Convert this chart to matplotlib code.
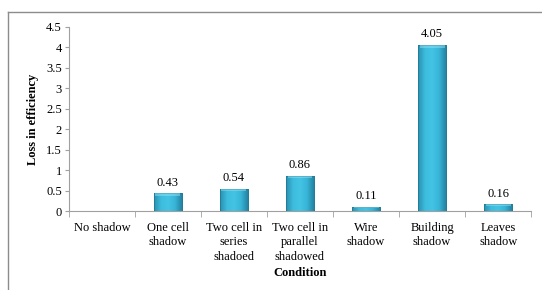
import matplotlib.pyplot as plt
import numpy as np
from matplotlib.lines import Line2D
from matplotlib.colors import LinearSegmentedColormap

conditions = ['No shadow', 'One cell\nshadow', 'Two cell in\nseries\nshadoed',
              'Two cell in\nparallel\nshadowed', 'Wire\nshadow', 'Building\nshadow',
              'Leaves\nshadow']
loss = [0, 0.43, 0.54, 0.86, 0.11, 4.05, 0.16]
labels = ['', '0.43', '0.54', '0.86', '0.11', '4.05', '0.16']

plt.rcParams['font.family'] = 'serif'
plt.rcParams['font.serif'] = ['Liberation Serif', 'DejaVu Serif']

fig = plt.figure(figsize=(5.42, 2.90), dpi=100)
ax = fig.add_axes([0.127, 0.2724, 0.853, 0.6345])

# outer frame (partly cut off like the source)
fig.add_artist(Line2D([8/542, 1], [1-12/290, 1-12/290], color='#8c8c8c', lw=1))
fig.add_artist(Line2D([8/542, 8/542], [0, 1-12/290], color='#8c8c8c', lw=1))

x = np.arange(len(conditions))
w = 0.42
grad = np.linspace(0, 1, 100).reshape(1, -1)
cmap = LinearSegmentedColormap.from_list('bar', ['#2a8fae', '#3dbcdd', '#44c4e4', '#38b5d8', '#2584a4'])
for xi, v, lab in zip(x, loss, labels):
    if v > 0:
        bar = ax.bar(xi, v, width=w, color='#36b4d8', edgecolor='#1f7b97', lw=0.6, zorder=2)[0]
        im = ax.imshow(grad, extent=[xi - w/2, xi + w/2, 0, v], aspect='auto', cmap=cmap, zorder=2.5)
        im.set_clip_path(bar)
        ax.bar(xi, v, width=w, color='none', edgecolor='#1f7b97', lw=0.6, zorder=3)
        cap = min(0.06, v * 0.3)
        ax.bar(xi, cap, bottom=v - cap, width=w * 0.9, color='#8fe0f4', edgecolor='none', alpha=0.5, zorder=3)
        ax.text(xi, v + 0.12, lab, ha='center', va='bottom', fontsize=9)

ax.set_xlim(-0.5, len(conditions) - 0.5)
ax.set_ylim(0, 4.5)
ax.set_yticks(np.arange(0, 4.51, 0.5))
ax.set_yticklabels(['0', '0.5', '1', '1.5', '2', '2.5', '3', '3.5', '4', '4.5'], fontsize=9)
ax.set_xticks(x)
ax.set_xticklabels(conditions, fontsize=9, linespacing=1.25)
ax.set_xticks(np.arange(-0.5, len(conditions)), minor=True)
ax.tick_params(axis='x', which='major', length=0, pad=8)
ax.tick_params(axis='x', which='minor', length=4, color='#a0a0a0')
ax.tick_params(axis='y', length=3, color='#a0a0a0', pad=2)

for s in ['top', 'right']:
    ax.spines[s].set_visible(False)
ax.spines['left'].set_color('#a0a0a0')
ax.spines['bottom'].set_color('#a0a0a0')

ax.set_ylabel('Loss in efficiency', fontsize=9, fontweight='bold', labelpad=5)
ax.set_xlabel('Condition', fontsize=9, fontweight='bold', labelpad=3)

fig.savefig('out.png', dpi=100)
